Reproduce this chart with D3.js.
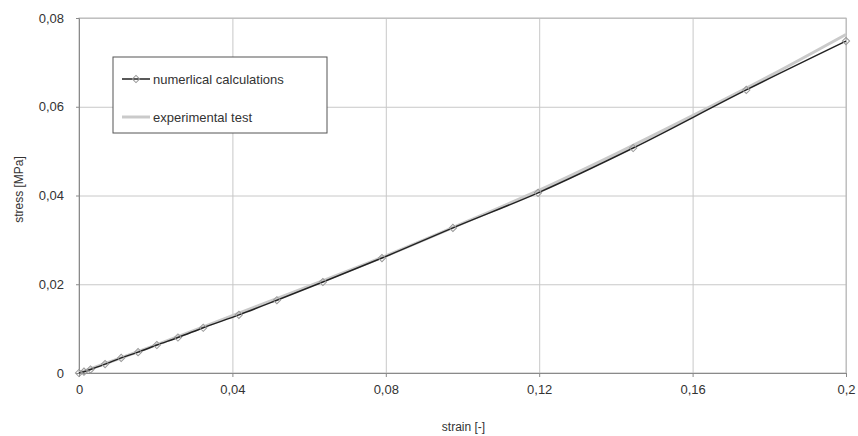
<!DOCTYPE html>
<html>
  <head>
    <meta charset="utf-8">
    <script src="https://d3js.org/d3.v7.min.js"></script>
    <style>
      body { margin: 0; background: #fff; }
      text { font-family: "Liberation Sans", Arial, sans-serif; fill: #333; }
      .grid line { stroke: #c8c8c8; }
      .grid path { display: none; }
    </style>
  </head>
  <body>
    <div id="chart"></div>
    <script>
      // numerical calculations (markers)
      var numStrain = [0, 0.0013, 0.003, 0.0068, 0.011, 0.0154, 0.0203, 0.0258, 0.0324, 0.0417, 0.0516, 0.0636, 0.079, 0.0975, 0.1197, 0.1445, 0.174, 0.2];
      var numStress = [0, 0.0003, 0.0008, 0.002, 0.0034, 0.0047, 0.0063, 0.008, 0.0102, 0.0131, 0.0164, 0.0205, 0.0259, 0.0327, 0.0406, 0.0507, 0.0638, 0.0748];
      // experimental test
      var expStrain = [0, 0.01, 0.02, 0.04, 0.06, 0.08, 0.1, 0.12, 0.14, 0.16, 0.18, 0.2];
      var expStress = [0, 0.0031, 0.0063, 0.0129, 0.0196, 0.0264, 0.0337, 0.0412, 0.0494, 0.058, 0.0669, 0.0763];
      var xTicks = [0, 0.04, 0.08, 0.12, 0.16, 0.2];
      var yTicks = [0, 0.02, 0.04, 0.06, 0.08];
      var legendLabels = ["numerlical calculations", "experimental test"];

      var W = 858, H = 436;
      var margin = {top: 18, right: 12, bottom: 63, left: 79},
          width = W - margin.left - margin.right,
          height = H - margin.top - margin.bottom;

      var loc = d3.formatLocale({decimal: ",", thousands: ".", grouping: [3], currency: ["", ""]});
      var fmt = loc.format("~g");

      var svg = d3.select("#chart").append("svg")
          .attr("width", W).attr("height", H)
        .append("g")
          .attr("transform", "translate(" + margin.left + "," + margin.top + ")");

      var x = d3.scaleLinear().domain([0, 0.2]).range([0, width]);
      var y = d3.scaleLinear().domain([0, 0.08]).range([height, 0]);

      // grid
      svg.append("g").attr("class", "grid")
        .call(d3.axisLeft(y).tickValues(yTicks).tickSize(-width).tickFormat(""));
      svg.append("g").attr("class", "grid")
        .attr("transform", "translate(0," + height + ")")
        .call(d3.axisBottom(x).tickValues(xTicks).tickSize(-height).tickFormat(""));

      svg.append("rect")
        .attr("width", width).attr("height", height)
        .attr("fill", "none").attr("stroke", "#b8b8b8");

      // axes
      var xa = svg.append("g")
        .attr("transform", "translate(0," + height + ")")
        .call(d3.axisBottom(x).tickValues(xTicks).tickSize(4).tickPadding(8).tickFormat(fmt));
      var ya = svg.append("g")
        .call(d3.axisLeft(y).tickValues(yTicks).tickSize(3).tickPadding(12).tickFormat(fmt));
      [xa, ya].forEach(function(a) {
        a.select(".domain").attr("stroke", "#8a8a8a");
        a.selectAll(".tick line").attr("stroke", "#8a8a8a");
        a.selectAll("text").attr("font-size", 13).attr("fill", "#333");
      });

      svg.append("text")
        .attr("x", width / 2 + 1).attr("y", height + 58)
        .attr("text-anchor", "middle").attr("font-size", 12)
        .text("strain [-]");
      svg.append("text")
        .attr("transform", "rotate(-90)")
        .attr("x", -height / 2 + 6).attr("y", -56)
        .attr("text-anchor", "middle").attr("font-size", 12)
        .text("stress [MPa]");

      var line = d3.line()
        .x(function(d) { return x(d[0]); })
        .y(function(d) { return y(d[1]); })
        .curve(d3.curveMonotoneX);

      var expData = expStrain.map(function(s, i) { return [s, expStress[i]]; });
      var numData = numStrain.map(function(s, i) { return [s, numStress[i]]; });

      svg.append("path").datum(expData)
        .attr("d", line)
        .attr("fill", "none").attr("stroke", "#cacaca").attr("stroke-width", 3);

      svg.append("path").datum(numData)
        .attr("d", line)
        .attr("fill", "none").attr("stroke", "#222").attr("stroke-width", 1.5);

      // square-ish diamond, like the spreadsheet marker
      var diamond = d3.symbol().type(d3.symbolSquare).size(26);
      svg.selectAll(".mk").data(numData).enter().append("path")
        .attr("class", "mk")
        .attr("transform", function(d) { return "translate(" + x(d[0]) + "," + y(d[1]) + ") rotate(45)"; })
        .attr("d", diamond)
        .attr("fill", "none").attr("stroke", "#999").attr("stroke-width", 1);

      // legend
      var lg = svg.append("g").attr("transform", "translate(34,39)");
      lg.append("rect")
        .attr("width", 214).attr("height", 76)
        .attr("fill", "#fff").attr("stroke", "#555");
      legendLabels.forEach(function(lbl, i) {
        var ly = 22 + i * 38;
        var item = lg.append("g").attr("transform", "translate(0," + ly + ")");
        if (i === 0) {
          item.append("line").attr("x1", 9).attr("x2", 37)
            .attr("stroke", "#222").attr("stroke-width", 1.5);
          item.append("path").attr("transform", "translate(23,0) rotate(45)")
            .attr("d", diamond).attr("fill", "none").attr("stroke", "#999");
        } else {
          item.append("line").attr("x1", 9).attr("x2", 37)
            .attr("stroke", "#cacaca").attr("stroke-width", 3);
        }
        item.append("text").attr("x", 40).attr("dy", "0.35em")
          .attr("font-size", 13).text(lbl);
      });
    </script>
  </body>
</html>
